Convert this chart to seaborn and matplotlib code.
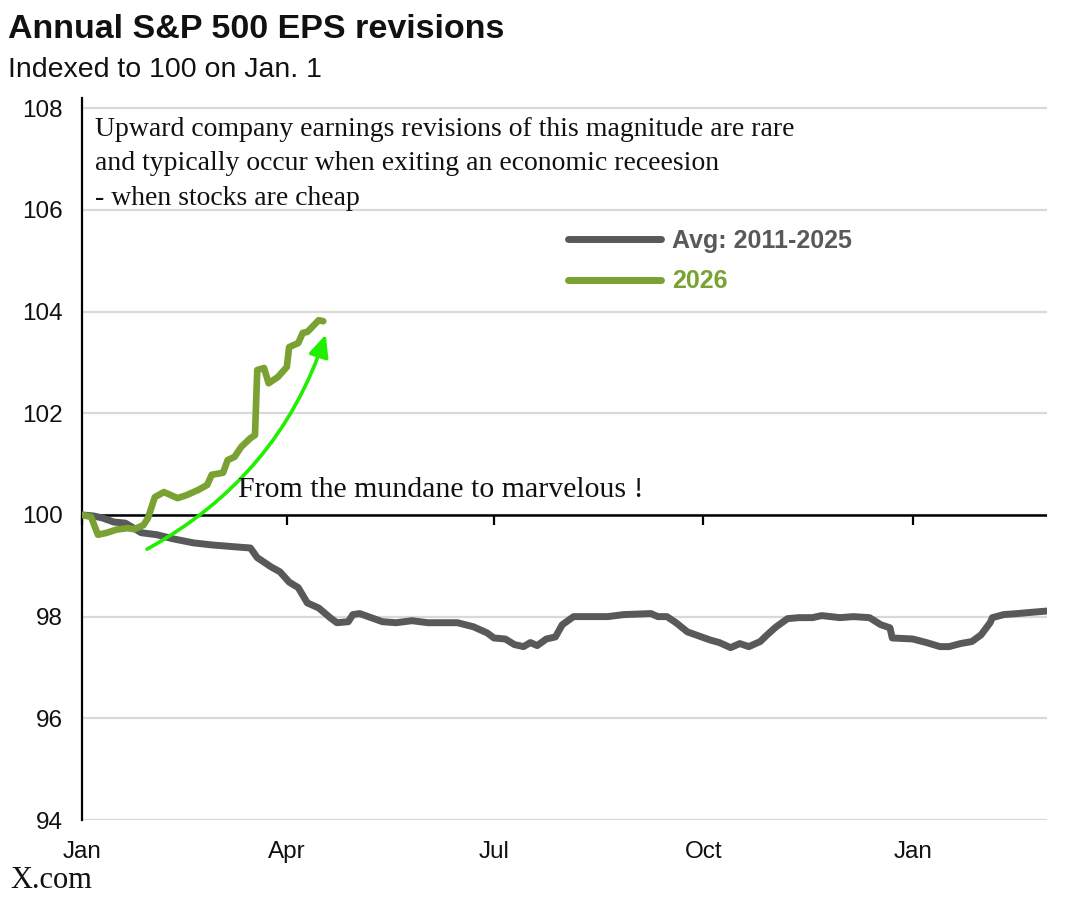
import numpy as np
import pandas as pd
import seaborn as sns
import matplotlib.pyplot as plt

# Data: x = days since Jan 1, y = EPS index (100 on Jan 1)
avg_days = [0, 5, 9, 14, 19, 22, 26, 33, 40, 49, 57, 68, 74, 77, 83, 87, 91, 95, 99,
            104, 109, 112, 117, 119, 122, 127, 132, 138, 145, 152, 165, 172, 178, 181,
            186, 190, 194, 197, 200, 204, 208, 211, 216, 222, 231, 238, 250, 253, 257,
            261, 266, 271, 276, 280, 285, 289, 293, 298, 301, 305, 310, 315, 321, 325,
            333, 339, 346, 351, 355, 356, 365, 371, 377, 381, 386, 391, 395, 399, 400,
            405, 411, 416, 424]
avg_vals = [100.0, 99.98, 99.94, 99.86, 99.84, 99.76, 99.65, 99.61, 99.53, 99.45, 99.41,
            99.37, 99.35, 99.16, 98.98, 98.88, 98.68, 98.57, 98.27, 98.17, 97.98, 97.88,
            97.90, 98.04, 98.06, 97.98, 97.90, 97.88, 97.92, 97.88, 97.88, 97.80, 97.68,
            97.58, 97.56, 97.45, 97.41, 97.49, 97.43, 97.56, 97.60, 97.84, 98.00, 98.00,
            98.00, 98.04, 98.06, 98.00, 98.00, 97.88, 97.70, 97.62, 97.54, 97.49, 97.39,
            97.47, 97.41, 97.51, 97.64, 97.80, 97.96, 97.98, 97.98, 98.02, 97.98, 98.00,
            97.98, 97.84, 97.78, 97.58, 97.56, 97.49, 97.41, 97.41, 97.47, 97.51, 97.64,
            97.88, 97.98, 98.04, 98.06, 98.08, 98.11]

cur_days = [0, 4, 7, 11, 15, 20, 23, 27, 29, 32, 36, 42, 46, 51, 55, 57, 62, 64, 67,
            70, 74, 76, 77, 80, 82, 86, 90, 91, 95, 97, 99, 101, 104, 106]
cur_vals = [100.0, 99.96, 99.61, 99.65, 99.71, 99.74, 99.72, 99.80, 99.94, 100.35,
            100.45, 100.33, 100.39, 100.49, 100.59, 100.79, 100.83, 101.08, 101.14,
            101.34, 101.51, 101.57, 102.85, 102.89, 102.59, 102.71, 102.91, 103.30,
            103.38, 103.58, 103.60, 103.69, 103.83, 103.81]

tick_days = [0, 90, 181, 273, 365]
tick_labels = ["Jan", "Apr", "Jul", "Oct", "Jan"]
y_ticks = [94, 96, 98, 100, 102, 104, 106, 108]

GRAY = "#58595b"
GREEN = "#7aa232"
ARROW = "#22ee00"

sns.set_theme(style="white")
plt.rcParams["font.family"] = ["Liberation Sans", "DejaVu Sans"]

df_avg = pd.DataFrame({"day": avg_days, "value": avg_vals})
df_cur = pd.DataFrame({"day": cur_days, "value": cur_vals})

fig = plt.figure(figsize=(10.76, 8.97), dpi=100)
ax = fig.add_axes([82 / 1076, 1 - 820 / 897, (1047 - 82) / 1076, (820 - 98) / 897])

sns.lineplot(data=df_avg, x="day", y="value", ax=ax, color=GRAY, lw=5,
             label="Avg: 2011-2025", solid_joinstyle="round", solid_capstyle="round",
             zorder=3)
sns.lineplot(data=df_cur, x="day", y="value", ax=ax, color=GREEN, lw=4.8,
             label="2026", solid_joinstyle="round", solid_capstyle="round",
             zorder=4)

ymin, ymax = 94, 108.2
ax.set_xlim(0, 424)
ax.set_ylim(ymin, ymax)
ax.set_xlabel("")
ax.set_ylabel("")
ax.set_yticks(y_ticks)
ax.set_xticks(tick_days, tick_labels)
ax.tick_params(axis="both", length=0, labelsize=17.5, colors="#111111")
ax.tick_params(axis="y", pad=14)
ax.tick_params(axis="x", pad=15)
ax.grid(axis="y", color="#d9d9d9", lw=1.6)
ax.grid(axis="x", visible=False)
for side in ["top", "right", "bottom"]:
    ax.spines[side].set_visible(False)
ax.spines["left"].set_color("black")
ax.spines["left"].set_linewidth(1.6)

# black axis line at 100 with tick marks
ax.axhline(100, color="black", lw=1.8, zorder=2)
sec = ax.secondary_xaxis((100 - ymin) / (ymax - ymin))
sec.set_xticks(tick_days)
sec.tick_params(direction="out", length=7, width=1.6, color="black",
                labelbottom=False, labeltop=False)
sec.spines["bottom"].set_visible(False)
sec.spines["top"].set_visible(False)

leg = ax.legend(loc="upper left", bbox_to_anchor=(568 / 1076, 1 - 229 / 897),
                bbox_transform=fig.transFigure, frameon=False, fontsize=18,
                handlelength=3.7, handletextpad=0.45, labelspacing=0.66,
                borderpad=0, borderaxespad=0)
for text, col in zip(leg.get_texts(), [GRAY, GREEN]):
    text.set_color(col)
    text.set_fontweight("bold")
for line in leg.get_lines():
    line.set_linewidth(5)
    line.set_solid_capstyle("round")

# green arrow
ax.annotate("", xy=(107.5, 103.6), xytext=(27.5, 99.3),
            arrowprops=dict(arrowstyle="-|>,head_length=1.1,head_width=0.5",
                            color=ARROW, lw=2.6, connectionstyle="arc3,rad=0.2"),
            zorder=5)

serif = ["Liberation Serif", "DejaVu Serif"]
fig.text(95 / 1076, 1 - 117 / 897,
         "Upward company earnings revisions of this magnitude are rare\n"
         "and typically occur when exiting an economic receesion\n"
         "- when stocks are cheap",
         family=serif, fontsize=20, va="top", ha="left", linespacing=1.5,
         color="#111111")
fig.text(238 / 1076, 1 - 490 / 897, "From the mundane to marvelous !",
         family=serif, fontsize=21.5, va="center", ha="left", color="#111111")
fig.text(10 / 1076, 1 - 880 / 897, "X.com", family=serif, fontsize=22,
         va="center", ha="left", color="#111111")

fig.text(8 / 1076, 1 - 30 / 897, "Annual S&P 500 EPS revisions", fontsize=24.5,
         fontweight="bold", va="center", ha="left", color="#111111")
fig.text(8 / 1076, 1 - 70 / 897, "Indexed to 100 on Jan. 1", fontsize=20.5,
         va="center", ha="left", color="#111111")

fig.savefig("out.png", dpi=100)
